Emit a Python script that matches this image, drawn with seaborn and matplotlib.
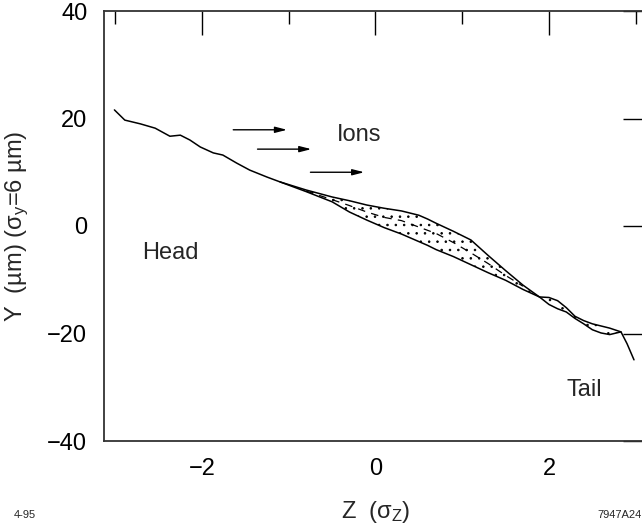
import numpy as np
import pandas as pd
import matplotlib
matplotlib.use("Agg")
import matplotlib.pyplot as plt
import seaborn as sns

# ----- data -----
head_z = [-3.01, -2.89, -2.71, -2.54, -2.37, -2.25, -2.14, -2.02, -1.87, -1.76,
          -1.60, -1.45, -1.25, -1.10]
head_y = [21.6, 19.7, 19.0, 18.2, 16.7, 16.9, 16.0, 14.7, 13.6, 13.2,
          11.7, 10.4, 9.1, 8.2]

band_z = [-1.10, -0.80, -0.50, -0.30, -0.10, 0.10, 0.30, 0.50, 0.60, 0.70, 0.90,
          1.10, 1.30, 1.50, 1.70, 1.89]
band_upper = [8.2, 6.7, 5.4, 4.7, 3.9, 3.3, 2.8, 2.0, 1.3, 0.5, -1.0,
              -2.6, -5.5, -8.3, -11.0, -13.2]
band_lower = [8.2, 6.4, 4.5, 2.6, 1.1, -0.3, -1.5, -2.9, -3.6, -4.4, -5.7,
              -7.2, -8.7, -10.1, -11.8, -13.2]

mid_z = [-0.80, -0.50, -0.30, -0.10, 0.10, 0.30, 0.50, 0.70, 0.90, 1.10, 1.30, 1.50, 1.70]
mid_y = [6.5, 4.9, 3.8, 2.6, 1.6, 1.0, -0.2, -1.4, -3.1, -5.0, -7.0, -9.2, -11.2]

tail_z = [1.89, 2.00, 2.10, 2.20, 2.30, 2.40, 2.50, 2.60, 2.70, 2.83]
tail_upper = [-13.2, -13.3, -13.9, -15.2, -16.8, -17.6, -18.2, -18.6, -19.0, -19.7]
tail_lower = [-13.2, -14.6, -15.4, -16.0, -17.2, -18.2, -19.3, -19.9, -20.2, -19.7]

end_z = [2.83, 2.90, 2.98]
end_y = [-19.7, -21.9, -24.9]

# ion arrows: start z, end z, y
arrow_z0 = [-1.64, -1.36, -0.75]
arrow_z1 = [-1.02, -0.74, -0.13]
arrow_y = [17.9, 14.3, 10.0]

# ----- style -----
sns.set_style("white")
plt.rcParams["font.family"] = ["Liberation Sans", "DejaVu Sans"]
plt.rcParams["mathtext.default"] = "regular"
plt.rcParams["hatch.linewidth"] = 0.6

fig = plt.figure(figsize=(6.42, 5.25), dpi=100)
ax = fig.add_axes([104 / 642, 84 / 525, 543 / 642, 430 / 525])

line_kw = dict(color="black", linewidth=1.1, sort=False, estimator=None, ax=ax)

main = pd.DataFrame({"z": head_z + band_z[1:] + tail_z[1:] + end_z[1:],
                     "y": head_y + band_upper[1:] + tail_upper[1:] + end_y[1:]})
low = pd.DataFrame({"z": band_z + tail_z[1:], "y": band_lower + tail_lower[1:]})
mid = pd.DataFrame({"z": mid_z, "y": mid_y})

sns.lineplot(data=main, x="z", y="y", **line_kw)
sns.lineplot(data=low, x="z", y="y", **line_kw)
sns.lineplot(data=mid, x="z", y="y", color="black", linewidth=0.9,
             linestyle=(0, (6, 5)), sort=False, estimator=None, ax=ax)

# dotted interior of the spread band
ax.fill_between(band_z, band_lower, band_upper, facecolor="none",
                edgecolor="black", hatch="..", linewidth=0)
ax.fill_between(tail_z, tail_lower, tail_upper, facecolor="none",
                edgecolor="black", hatch="..", linewidth=0)

for z0, z1, y in zip(arrow_z0, arrow_z1, arrow_y):
    ax.annotate("", xy=(z1, y), xytext=(z0, y),
                arrowprops=dict(arrowstyle="-|>,head_length=0.7,head_width=0.18",
                                color="black", lw=1.0, shrinkA=0, shrinkB=0))

ax.text(-0.45, 16.9, "Ions", fontsize=17, va="center", ha="left")
ax.text(-2.69, -5.0, "Head", fontsize=17, va="center", ha="left")
ax.text(2.20, -30.5, "Tail", fontsize=17, va="center", ha="left")

# ----- axes -----
ax.set_xlim(-3.13, 3.13)
ax.set_ylim(-40, 40)
ax.set_xticks([-2, 0, 2])
ax.set_xticks([-3, -1, 1, 3], minor=True)
ax.set_yticks([-40, -20, 0, 20, 40])
ax.set_xticklabels(["\u22122", "0", "2"])
ax.set_yticklabels(["\u221240", "\u221220", "0", "20", "40"])
ax.tick_params(which="both", direction="in", top=True, right=True,
               colors="black", width=1.0, labelsize=17)
ax.tick_params(which="major", length=17)
ax.tick_params(which="minor", length=9.5)
ax.tick_params(axis="x", pad=12)
ax.tick_params(axis="y", pad=12)
for sp in ax.spines.values():
    sp.set_color("#333333")
    sp.set_linewidth(1.3)

ax.set_xlabel("Z  (\u03c3$_{Z}$)", fontsize=17, labelpad=14)
ax.set_ylabel("Y  (\u00b5m) (\u03c3$_{y}$=6 \u00b5m)", fontsize=17, labelpad=12)

fig.text(14 / 642, 1 - 515 / 525, "4-95", fontsize=8, va="center", ha="left")
fig.text(597 / 642, 1 - 515 / 525, "7947A24", fontsize=8, va="center", ha="left")

fig.savefig("out.png", dpi=100)
